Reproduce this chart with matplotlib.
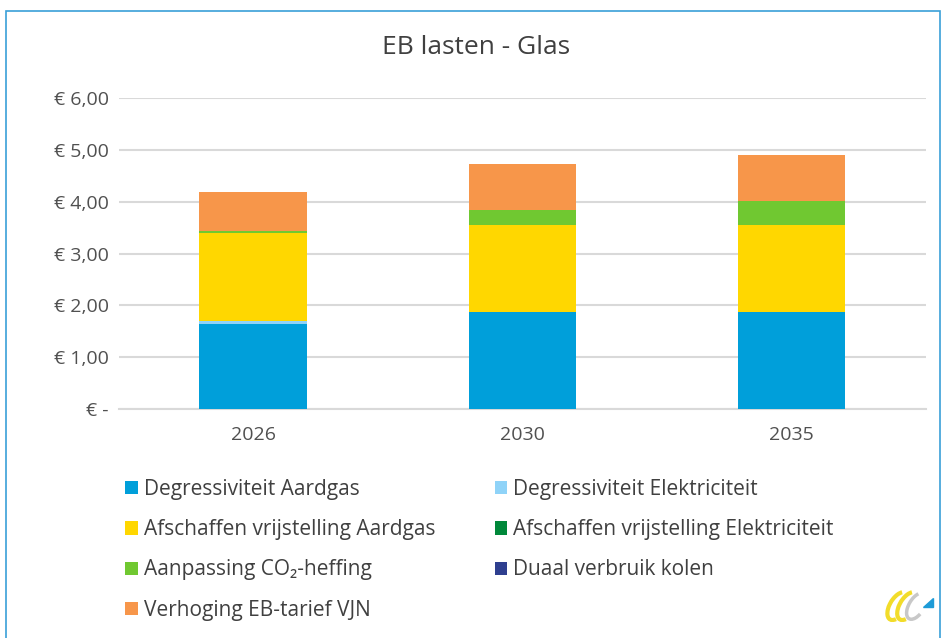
import matplotlib.pyplot as plt
import numpy as np
from matplotlib.patches import Rectangle, Arc, Polygon
from matplotlib.ticker import FuncFormatter

plt.rcParams['font.family'] = ['Open Sans', 'DejaVu Sans']

# data
years = ['2026', '2030', '2035']
series_names = [
    'Degressiviteit Aardgas',
    'Degressiviteit Elektriciteit',
    'Afschaffen vrijstelling Aardgas',
    'Afschaffen vrijstelling Elektriciteit',
    'Aanpassing CO\u2082-heffing',
    'Duaal verbruik kolen',
    'Verhoging EB-tarief VJN',
]
degr_aardgas = [1.64, 1.87, 1.88]
degr_elek = [0.05, 0.0, 0.0]
afsch_aardgas = [1.71, 1.69, 1.68]
afsch_elek = [0.0, 0.0, 0.0]
co2_heffing = [0.04, 0.28, 0.45]
duaal_kolen = [0.0, 0.0, 0.0]
vjn_tarief = [0.75, 0.89, 0.89]

colors = ['#009fda', '#8fd3f8', '#ffd700', '#00883a', '#70c831', '#2e3f8f', '#f7964a']
values = [degr_aardgas, degr_elek, afsch_aardgas, afsch_elek, co2_heffing, duaal_kolen, vjn_tarief]

fig = plt.figure(figsize=(9.42, 6.38), dpi=100)
ax = fig.add_axes([0.126, 0.359, 0.857, 0.487])

x = np.arange(len(years))
bottom = np.zeros(len(years))
handles = []
for name, vals, col in zip(series_names, values, colors):
    h = ax.bar(x, vals, 0.4, bottom=bottom, color=col, label=name, zorder=3)
    handles.append(h)
    bottom += np.array(vals)

ax.set_ylim(0, 6)
ax.set_xlim(-0.5, 2.5)
ax.set_yticks(np.arange(0, 7, 1))
ax.yaxis.set_major_formatter(FuncFormatter(lambda v, p: '€ -' if v == 0 else '€ ' + f'{v:.2f}'.replace('.', ',')))
ax.set_xticks(x)
ax.set_xticklabels(years)
ax.grid(axis='y', color='#d9d9d9', linewidth=1.5, zorder=0)
for s in ['top', 'right', 'left']:
    ax.spines[s].set_visible(False)
ax.spines['bottom'].set_color('#d9d9d9')
ax.spines['bottom'].set_linewidth(1.5)
ax.tick_params(length=0, labelsize=14, colors='#505050', pad=7)
ax.tick_params(axis='x', pad=12)

fig.text(0.505, 0.926, 'EB lasten - Glas', ha='center', va='center', fontsize=19, color='#404040')

# legend in two columns
order1 = [0, 2, 4, 6]
order2 = [1, 3, 5]
leg_kw = dict(frameon=False, fontsize=15, labelcolor='#404040', handlelength=0.6, handleheight=0.6,
              handletextpad=0.3, labelspacing=0.92, borderaxespad=0, borderpad=0)
fig.legend([handles[i] for i in order1], [series_names[i] for i in order1],
           loc='upper left', bbox_to_anchor=(0.133, 0.249), **leg_kw)
fig.legend([handles[i] for i in order2], [series_names[i] for i in order2],
           loc='upper left', bbox_to_anchor=(0.525, 0.249), **leg_kw)

# logo, bottom right
lx = fig.add_axes([0.937, 0.025, 0.058, 0.05])
lx.set_xlim(0, 1)
lx.set_ylim(0, 1)
lx.axis('off')
lx.add_patch(Arc((0.28, 0.5), 0.32, 0.9, angle=-15, theta1=95, theta2=280, color='#f2dc2a', linewidth=3))
lx.add_patch(Arc((0.46, 0.5), 0.32, 0.9, angle=-15, theta1=95, theta2=280, color='#f2dc2a', linewidth=3))
lx.add_patch(Arc((0.62, 0.5), 0.3, 0.85, angle=-15, theta1=100, theta2=300, color='#c8c8c8', linewidth=2.5))
lx.add_patch(Polygon([[0.74, 0.48], [0.92, 0.48], [0.92, 0.75]], color='#1e9bd7'))

# outer border
fig.patches.append(Rectangle((0.006, -0.01), 0.992, 0.993, transform=fig.transFigure, fill=False,
                             edgecolor='#3aa0d8', linewidth=1.2))

fig.savefig('out.png', dpi=100)
